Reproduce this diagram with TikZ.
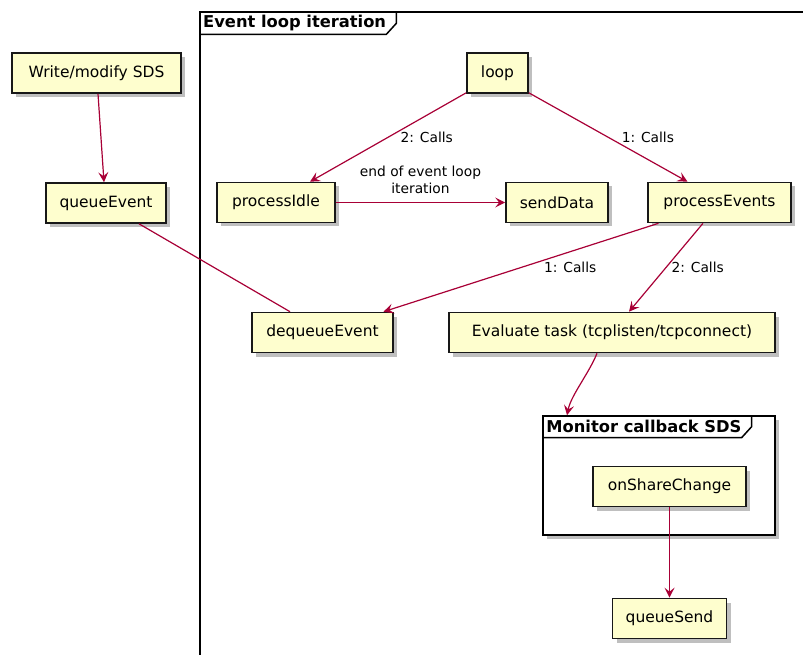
\documentclass[tikz,border=0pt]{standalone}
\usepackage{fontspec}
\setmainfont{DejaVu Sans}
\usetikzlibrary{arrows.meta,shadows,calc}
\definecolor{nodefill}{HTML}{FEFECE}
\definecolor{edgecol}{HTML}{A80036}
\definecolor{boxline}{HTML}{181818}

\begin{document}
\begin{tikzpicture}[x=1pt,y=-1pt,
  softshadow/.style={drop shadow={shadow xshift=4pt, shadow yshift=-4pt, fill=black, opacity=0.25}},
  box/.style={draw=boxline, line width=1.6pt, fill=nodefill, minimum height=40pt,
    inner sep=0pt, font=\fontsize{15.5}{18}\selectfont, softshadow},
  flow/.style={draw=edgecol, line width=1.2pt, -{Stealth[length=10pt,width=10pt,inset=4pt]}},
  plainlink/.style={draw=edgecol, line width=1.2pt},
  lbl/.style={font=\fontsize{13.8}{17}\selectfont, inner sep=0pt, text=black},
  frameline/.style={draw=black, line width=1.5pt},
  ftitle/.style={font=\bfseries\fontsize{16.3}{18}\selectfont, inner sep=0pt,
    minimum height=22pt, anchor=north west}]

\useasboundingbox (0,0) rectangle (803,655);
\clip (0,0) rectangle (803,655);

% outer frame: event loop iteration
\draw[frameline] (200,670) -- (200,12) -- (820,12);
\node[ftitle] (t1) at (203,12) {Event loop iteration};
\draw[frameline] ([xshift=-3pt]t1.south west) -- (t1.south east)
  -- ([xshift=10pt,yshift=11pt]t1.south east) -- ([xshift=10pt]t1.north east);

% nodes outside the loop
\node[box, minimum width=169pt] (wsds) at (96.5,73) {Write/modify SDS};
\node[box, minimum width=120pt] (qevent) at (106,203) {queueEvent};

% nodes inside the loop
\node[box, minimum width=61pt] (loop) at (497.5,73) {loop};
\node[box, minimum width=118pt] (pidle) at (276,202.5) {processIdle};
\node[box, minimum width=102pt] (sdata) at (557,202.5) {sendData};
\node[box, minimum width=143pt] (pevents) at (719.5,202.5) {processEvents};
\node[box, minimum width=141pt] (deq) at (322.5,332.5) {dequeueEvent};
\node[box, minimum width=326pt] (evalt) at (612,332.5) {Evaluate task (tcplisten/tcpconnect)};

% inner frame: monitor callback
\node[draw=black, line width=1.5pt, fill=white, minimum width=232pt, minimum height=119pt,
  inner sep=0pt, softshadow] (mon) at (659,475.5) {};
\node[ftitle] (t2) at ([xshift=4pt]mon.north west) {Monitor callback SDS};
\draw[frameline] ([xshift=-4pt]t2.south west) -- (t2.south east)
  -- ([xshift=10pt,yshift=11pt]t2.south east) -- ([xshift=10pt]t2.north east);

\node[box, minimum width=153pt] (osc) at (669.5,486.5) {onShareChange};
\node[box, minimum width=114pt] (qsend) at (669.5,618.5) {queueSend};

% connectors
\draw[flow] ([xshift=1.5pt]wsds.south) -- ([xshift=-2pt]qevent.north);
\draw[plainlink] ([xshift=33pt]qevent.south) -- ([xshift=-32.5pt]deq.north);

\draw[flow] ([yshift=1pt]loop.south west) -- ([xshift=34pt]pidle.north)
  node[lbl, midway, anchor=west, xshift=12pt] {2: Calls};
\draw[flow] ([yshift=1pt]loop.south east) -- ([xshift=-32pt]pevents.north)
  node[lbl, midway, anchor=west, xshift=13pt] {1: Calls};
\draw[flow] (pidle) -- (sdata)
  node[lbl, midway, above=8pt, align=center] {end of event loop\\iteration};
\draw[flow] ([xshift=-61pt]pevents.south) -- ([xshift=61pt]deq.north)
  node[lbl, midway, anchor=west, xshift=22.5pt] {1: Calls};
\draw[flow] ([xshift=-16.5pt]pevents.south) -- ([xshift=17pt]evalt.north)
  node[lbl, midway, anchor=west, xshift=5pt] {2: Calls};
\draw[flow] ([xshift=-15pt]evalt.south) .. controls +(-8,20) and +(4,-20) .. ([xshift=-92pt]mon.north);
\draw[flow] (osc.south) -- (qsend.north);

\end{tikzpicture}
\end{document}
